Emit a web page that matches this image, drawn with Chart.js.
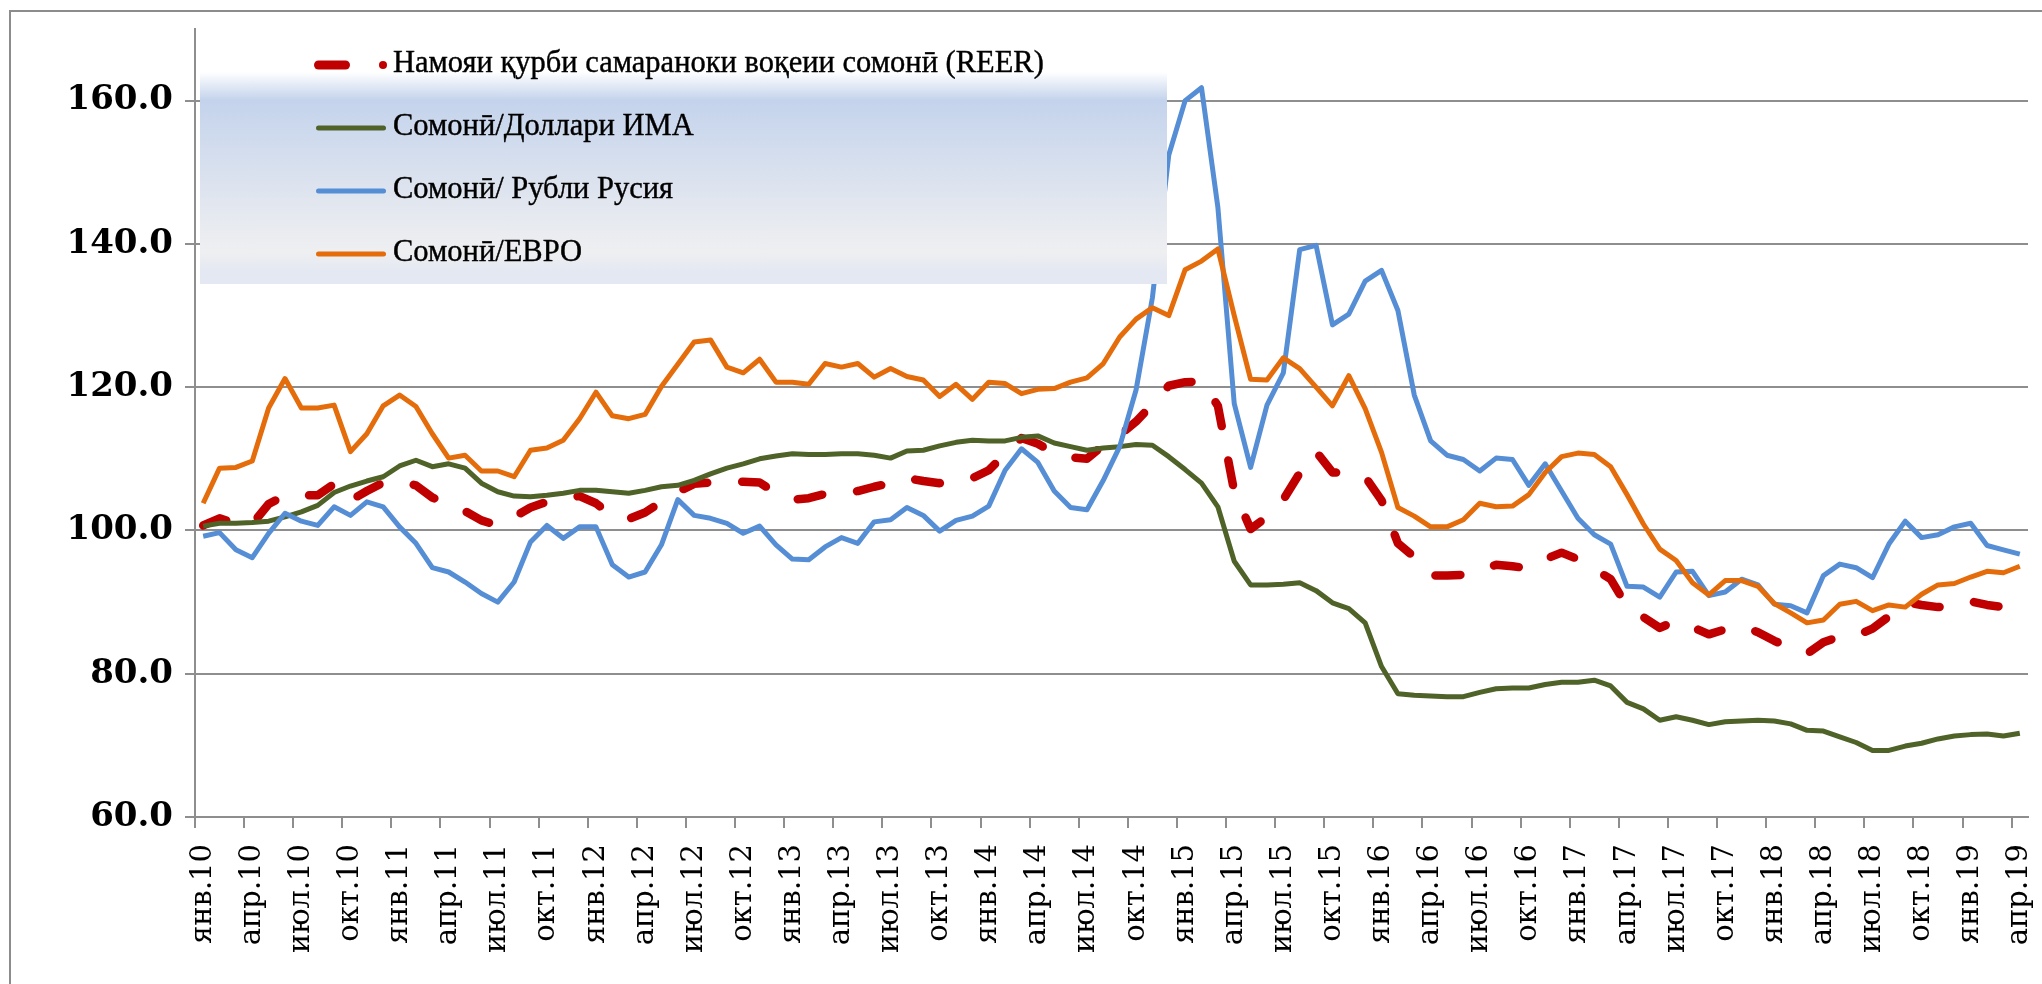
<!DOCTYPE html>
<html>
<head>
<meta charset="utf-8">
<title>REER</title>
<script src="https://cdn.jsdelivr.net/npm/chart.js@4.4.1/dist/chart.umd.min.js"></script>
<style>
  body { margin: 0; background: #fff; }
  #wrap { position: relative; width: 2042px; height: 984px; overflow: hidden; }
  #frame {
    position: absolute; left: 9px; top: 10px; width: 2200px; height: 1100px;
    border-left: 2px solid #8c8c8c; border-top: 2px solid #8c8c8c;
    pointer-events: none;
  }
  #legend-bg {
    position: absolute; left: 200px; top: 72px; width: 967px; height: 212px;
    background: linear-gradient(to bottom, #ffffff 0px, #c4d3ec 28px, #d6dfee 90px,
      #e7eaf0 150px, #eeeff1 180px, #e4e8f2 200px, #e3e8f3 212px);
  }
  .row { position: absolute; left: 0; height: 40px; width: 1200px; }
  .sample { position: absolute; top: 50%; transform: translateY(-50%); }
  .label {
    position: absolute; left: 393px; top: 0; line-height: 40px; white-space: nowrap;
    font: 30.5px "Liberation Serif", serif; color: #000;
    -webkit-text-stroke: 0.4px #000;
  }
</style>
</head>
<body>
<div id="wrap">
  <canvas id="chart" width="2042" height="984"></canvas>
  <div id="frame"></div>
  <div id="legend-bg"></div>
  <div id="legend"></div>
</div>
<script>
// Months Jan 2010 - Apr 2019
const monthNames = ["янв", "фев", "мар", "апр", "май", "июн", "июл", "авг", "сен", "окт", "ноя", "дек"];
const years = ["10", "11", "12", "13", "14", "15", "16", "17", "18", "19"];
const monthCount = 112;

// Real effective exchange rate of somoni
const reer = [
  100.7, 101.7, 100.9, 100.9, 103.7, 104.9, 104.9, 104.9, 106.5, 104.2, 105.5, 106.7,
  106.8, 106.3, 104.6, 103.6, 102.7, 101.4, 100.7, 101.9, 103.2, 104.0, 104.5, 104.8,
  103.8, 102.0, 101.6, 102.5, 104.0, 105.4, 106.5, 106.7, 106.8, 106.8, 106.7, 105.2,
  104.3, 104.5, 105.1, 105.3, 105.5, 106.1, 106.6, 107.3, 106.9, 106.6, 107.1, 107.3,
  108.4, 110.7, 112.9, 112.1, 110.8, 110.2, 110.0, 111.9, 113.3, 115.2, 117.6, 120.2,
  120.7, 120.8, 117.4, 105.4, 100.2, 101.9, 104.3, 108.0, 111.0, 108.1, 108.0, 107.5,
  104.2, 98.2, 96.3, 93.7, 93.7, 93.8, 94.5, 95.2, 95.0, 94.7, 96.0, 96.9,
  96.0, 94.6, 93.2, 89.4, 87.9, 86.4, 87.4, 86.5, 85.5, 86.2, 86.6, 85.8,
  84.6, 83.6, 82.8, 84.4, 85.2, 85.3, 86.3, 88.0, 90.0, 89.6, 89.3, 89.5,
  90.1, 89.6, 89.3, 90.1
];

// Somoni / US dollar
const usd = [
  100.6, 101.0, 101.0, 101.1, 101.3, 101.9, 102.6, 103.5, 105.3, 106.2, 106.9, 107.5,
  109.0, 109.8, 108.9, 109.3, 108.7, 106.6, 105.4, 104.8, 104.7, 104.9, 105.2, 105.6,
  105.6, 105.4, 105.2, 105.6, 106.1, 106.3, 107.0, 107.9, 108.7, 109.3, 110.0, 110.4,
  110.7, 110.6, 110.6, 110.7, 110.7, 110.5, 110.1, 111.1, 111.2, 111.8, 112.3, 112.6,
  112.5, 112.5, 113.0, 113.2, 112.2, 111.7, 111.2, 111.5, 111.7, 112.0, 111.9, 110.3,
  108.5, 106.6, 103.3, 95.7, 92.4, 92.4, 92.5, 92.7, 91.6, 89.9, 89.1, 87.1,
  81.0, 77.2, 77.0, 76.9, 76.8, 76.8, 77.4, 77.9, 78.0, 78.0, 78.5, 78.8,
  78.8, 79.1, 78.3, 76.0, 75.1, 73.5, 74.0, 73.5, 72.9, 73.3, 73.4, 73.5,
  73.4, 73.0, 72.1, 72.0, 71.2, 70.4, 69.3, 69.3, 69.9, 70.3, 70.9, 71.3,
  71.5, 71.6, 71.3, 71.7
];

// Somoni / Russian rouble
const rub = [
  99.2, 99.7, 97.3, 96.2, 99.6, 102.4, 101.3, 100.7, 103.3, 102.1, 104.0, 103.3,
  100.5, 98.2, 94.8, 94.2, 92.8, 91.2, 90.0, 92.8, 98.4, 100.7, 98.9, 100.5,
  100.5, 95.2, 93.5, 94.2, 98.0, 104.3, 102.1, 101.7, 101.0, 99.6, 100.6, 98.0,
  96.0, 95.9, 97.7, 99.0, 98.2, 101.2, 101.5, 103.2, 102.1, 99.9, 101.4, 102.0,
  103.4, 108.4, 111.4, 109.5, 105.5, 103.2, 102.9, 107.0, 111.7, 119.6, 132.5, 152.4,
  160.0, 161.8, 145.1, 117.7, 108.8, 117.5, 122.0, 139.2, 139.8, 128.7, 130.2, 134.8,
  136.3, 130.7, 118.9, 112.5, 110.5, 109.9, 108.3, 110.1, 109.9, 106.3, 109.3, 105.5,
  101.7, 99.4, 98.1, 92.2, 92.1, 90.7, 94.2, 94.3, 90.9, 91.4, 93.2, 92.4,
  89.7, 89.5, 88.5, 93.7, 95.3, 94.8, 93.4, 98.1, 101.3, 99.0, 99.4, 100.5,
  101.0, 97.9, 97.3, 96.7
];

// Somoni / euro
const eur = [
  103.8, 108.7, 108.8, 109.7, 117.1, 121.2, 117.1, 117.1, 117.5, 111.0, 113.5, 117.4,
  118.9, 117.3, 113.5, 110.1, 110.5, 108.3, 108.3, 107.5, 111.2, 111.5, 112.6, 115.6,
  119.3, 116.0, 115.6, 116.2, 120.1, 123.2, 126.3, 126.6, 122.8, 122.0, 123.9, 120.7,
  120.7, 120.4, 123.3, 122.8, 123.3, 121.4, 122.6, 121.5, 121.0, 118.7, 120.4, 118.3,
  120.7, 120.5, 119.1, 119.7, 119.8, 120.7, 121.3, 123.3, 127.0, 129.5, 131.1, 130.0,
  136.4, 137.6, 139.3, 130.0, 121.1, 121.0, 124.1, 122.6, 120.0, 117.4, 121.6, 117.0,
  110.9, 103.2, 102.0, 100.5, 100.5, 101.5, 103.8, 103.3, 103.4, 105.0, 108.1, 110.3,
  110.8, 110.6, 108.9, 105.0, 100.9, 97.4, 95.8, 92.7, 91.0, 93.0, 93.0, 92.2,
  89.8, 88.5, 87.1, 87.5, 89.7, 90.1, 88.8, 89.6, 89.3, 91.1, 92.4, 92.6,
  93.5, 94.3, 94.1, 95.0
];

const seriesNames = [
  "Намояи қурби самараноки воқеии сомонӣ (REER)",
  "Сомонӣ/Доллари ИМА",
  "Сомонӣ/ Рубли Русия",
  "Сомонӣ/ЕВРО"
];
const seriesColors = ["#c00000", "#4f6228", "#558ed5", "#e46c0a"];

// build "янв.10" style labels for each month
const labels = [];
years.forEach((y) => {
  monthNames.forEach((m) => {
    if (labels.length < monthCount) labels.push(m + "." + y);
  });
});

const gridColor = "#8e8e8e";

const ctx = document.getElementById("chart").getContext("2d");
const chart = new Chart(ctx, {
  type: "line",
  data: {
    labels: labels,
    datasets: [
      {
        label: seriesNames[0],
        data: reer,
        borderColor: seriesColors[0],
        borderWidth: 8.5,
        borderDash: [25, 35],
        borderCapStyle: "round",
        order: 3,
      },
      { label: seriesNames[1], data: usd, borderColor: seriesColors[1], borderWidth: 5, order: 2 },
      { label: seriesNames[2], data: rub, borderColor: seriesColors[2], borderWidth: 5, order: 1 },
      { label: seriesNames[3], data: eur, borderColor: seriesColors[3], borderWidth: 5, order: 0 },
    ],
  },
  options: {
    responsive: false,
    animation: false,
    devicePixelRatio: 1,
    elements: {
      point: { radius: 0, hoverRadius: 0 },
      line: { tension: 0, borderJoinStyle: "round", fill: false },
    },
    layout: { padding: { top: 29, right: 14, left: 0, bottom: 0 } },
    plugins: { legend: { display: false }, tooltip: { enabled: false } },
    scales: {
      x: {
        type: "category",
        offset: true,
        border: { color: gridColor, width: 2 },
        grid: {
          offset: true,
          drawOnChartArea: false,
          tickLength: 11,
          lineWidth: 2,
          color: (c) => (c.index % 3 === 0 ? gridColor : "rgba(0,0,0,0)"),
        },
        ticks: {
          autoSkip: false,
          minRotation: 90,
          maxRotation: 90,
          padding: 16,
          color: "#000",
          font: { family: "'DejaVu Serif', serif", size: 29 },
          callback: function (value, index) {
            return index % 3 === 0 ? this.getLabelForValue(value) : "";
          },
        },
        afterFit: (scale) => {
          scale.height = 984 - 817;
          // keep the plot edges where the layout padding puts them
          scale.paddingLeft = 0;
          scale.paddingRight = 0;
        },
      },
      y: {
        min: 60,
        max: 170,
        border: { color: gridColor, width: 2 },
        grid: { color: gridColor, lineWidth: 2, tickLength: 10 },
        ticks: {
          stepSize: 20,
          includeBounds: false,
          padding: 12,
          color: "#000",
          font: { family: "'DejaVu Serif', serif", size: 34, weight: "bold" },
          callback: (v) => v.toFixed(1),
        },
        afterFit: (scale) => {
          scale.width = 195;
          scale.paddingTop = 0;
          scale.paddingBottom = 0;
        },
      },
    },
  },
});

// Legend drawn over the plot, built from the chart's datasets
function buildLegend(chart) {
  const legend = document.getElementById("legend");
  legend.innerHTML = "";
  chart.data.datasets.forEach((ds, i) => {
    const row = document.createElement("div");
    row.className = "row";
    row.style.top = 65 + i * 63 - 20 + "px";

    if (ds.borderDash && ds.borderDash.length) {
      const dash = document.createElement("span");
      dash.className = "sample";
      dash.style.cssText += `left:314px;width:36px;height:9px;border-radius:4.5px;background:${ds.borderColor};`;
      const dot = document.createElement("span");
      dot.className = "sample";
      dot.style.cssText += `left:379px;width:8px;height:8px;border-radius:4px;background:${ds.borderColor};`;
      row.appendChild(dash);
      row.appendChild(dot);
    } else {
      const line = document.createElement("span");
      line.className = "sample";
      line.style.cssText += `left:316px;width:70px;height:5px;border-radius:2.5px;background:${ds.borderColor};`;
      row.appendChild(line);
    }

    const text = document.createElement("span");
    text.className = "label";
    text.textContent = ds.label;
    row.appendChild(text);
    legend.appendChild(row);
  });
}

buildLegend(chart);
</script>
</body>
</html>
